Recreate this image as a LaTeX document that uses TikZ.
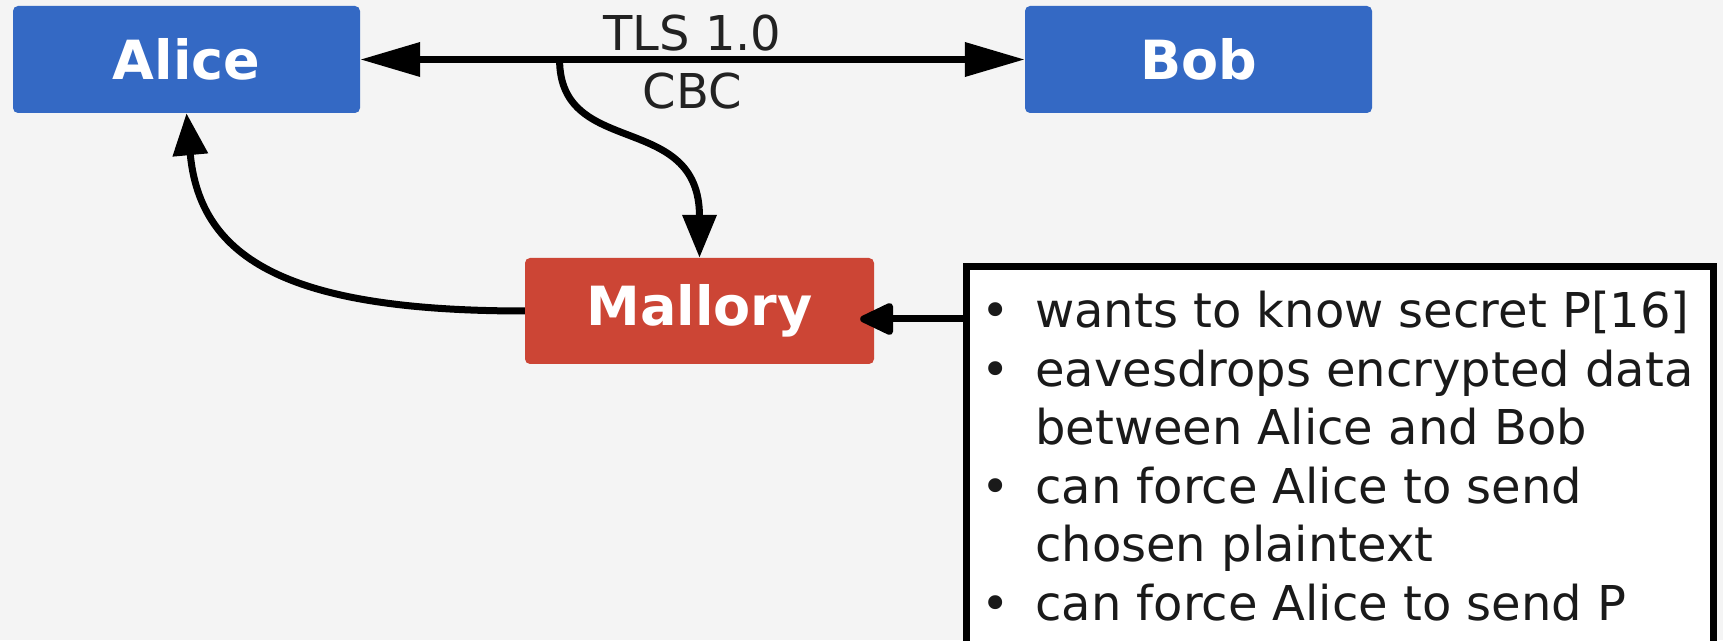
\documentclass[tikz,border=0pt]{standalone}
\usepackage{fontspec}
\setmainfont{DejaVu Sans}
\usetikzlibrary{arrows.meta,calc}

\definecolor{pagebg}{HTML}{F4F4F4}
\definecolor{partyblue}{HTML}{3469C4}
\definecolor{attackred}{HTML}{CC4535}
\definecolor{labelgray}{HTML}{222222}
\definecolor{notetext}{HTML}{1A1A1A}

% bullet with a fixed-width slot so wrapped lines line up
\newcommand{\notebullet}{\makebox[54pt][l]{•}}
\newcommand{\noteindent}{\hspace*{54pt}}

\tikzset{
  channeltip/.tip={Triangle[length=60pt,width=33pt]},
  curvetip/.tip={Triangle[length=43pt,width=33pt]},
  backtip/.tip={Triangle[length=42pt,width=34pt]},
  notetip/.tip={Triangle[length=38pt,width=34pt,round]},
}

\begin{document}
\begin{tikzpicture}[x=1pt,y=1pt,
  party/.style={rectangle, rounded corners=5pt, minimum width=347pt,
    minimum height=107pt, inner sep=0pt, text=white,
    font=\fontsize{54}{60}\selectfont\bfseries},
  link/.style={line width=7pt, draw=black},
  channellabel/.style={inner sep=0pt, text=labelgray,
    font=\fontsize{48}{58}\selectfont},
  notebox/.style={draw=black, line width=7pt, fill=white, inner sep=0pt,
    minimum width=747pt, minimum height=480pt},
]
\clip (0,0) rectangle (1723,640);
\fill[pagebg] (0,0) rectangle (1723,640);

% parties
\node[party, fill=partyblue] (alice) at (186.5,580.5) {Alice};
\node[party, fill=partyblue] (bob) at (1198.5,580.5) {Bob};
\node[party, fill=attackred, minimum width=349pt, minimum height=106pt]
  (mallory) at (699.5,329) {Mallory};

% attacker's capabilities
\node[notebox, anchor=north west] (notesbox) at (963,377) {};
\node[anchor=base west, inner sep=0pt, text=notetext,
  font=\fontsize{48}{58.6}\selectfont] (notes) at (981,312.5)
  {\begin{tabular}[t]{@{}l@{}}
   \notebullet wants to know secret P[16]\\
   \notebullet eavesdrops encrypted data\\
   \noteindent between Alice and Bob\\
   \notebullet can force Alice to send\\
   \noteindent chosen plaintext\\
   \notebullet can force Alice to send P
   \end{tabular}};

% encrypted channel
\draw[link, channeltip-channeltip] (alice.east) -- (bob.west);
\node[channellabel, anchor=base] (tls) at ($(alice.east)!0.5!(bob.west) + (0,9)$) {TLS 1.0};
\node[channellabel, anchor=base] (cbc) at ($(alice.east)!0.5!(bob.west) + (0,-49)$) {CBC};

% eavesdropping and injection
\coordinate (tap) at ($(alice.east)!0.3!(bob.west)$);
\draw[link, -curvetip] (tap) .. controls +(0,-100) and +(0,148) .. (mallory.north);
\draw[link, -backtip]
  (mallory.west) .. controls +(-235,0) and +(13.5,-147) .. (alice.south);

\path (notesbox.north west) ++(0,-56) coordinate (noteport);
\coordinate (mtip) at ([xshift=-14pt,yshift=-8pt]mallory.east);
\draw[link, -notetip] (noteport) -- (mtip);
\end{tikzpicture}
\end{document}
